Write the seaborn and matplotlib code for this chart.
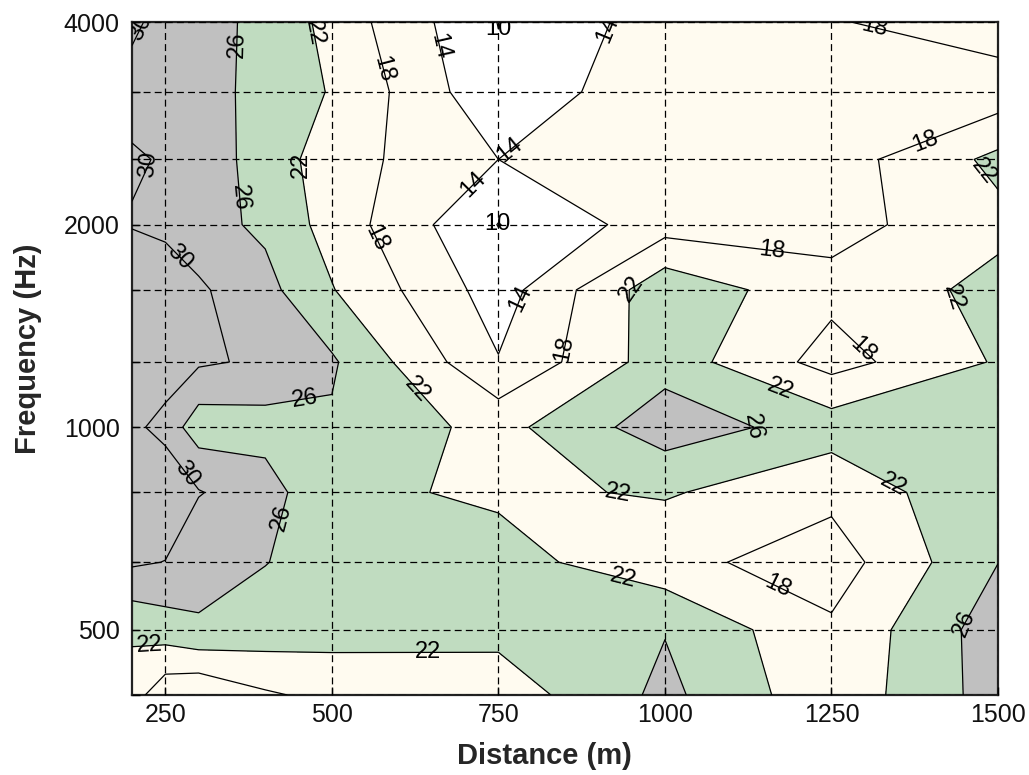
import numpy as np
import matplotlib
matplotlib.use("Agg")
import matplotlib.pyplot as plt
import seaborn as sns
from matplotlib.ticker import FixedLocator, FixedFormatter, NullFormatter

# ---------------- data ----------------
distance_m = [200, 250, 300, 400, 500, 750, 1000, 1250, 1500]
frequency_hz = [400, 500, 630, 800, 1000, 1250, 1600, 2000, 2500, 3150, 4000]

# level (dB) per distance, one list per 1/3-octave band
band_400 = [19.7, 15.4, 14.5, 17.5, 19.0, 19.7, 27.0, 19.2, 27.8]
band_500 = [22.9, 24.2, 25.7, 24.5, 23.8, 23.35, 25.8, 18.6, 28.1]
band_630 = [30.6, 29.9, 27.0, 26.1, 24.5, 23.6, 19.2, 16.0, 25.95]
band_800 = [33.0, 33.6, 30.25, 27.5, 23.07, 21.25, 22.4, 19.2, 25.4]
band_1000 = [31.1, 28.4, 23.8, 24.5, 25.55, 20.6, 28.3, 24.0, 24.0]
band_1250 = [33.5, 33.0, 30.6, 29.3, 26.5, 14.2, 24.2, 16.4, 22.4]
band_1600 = [32.5, 31.7, 30.6, 27.2, 22.2, 12.1, 24.7, 19.3, 23.1]
band_2000 = [29.8, 29.3, 27.5, 25.2, 20.4, 9.9, 16.15, 16.5, 20.96]
band_2500 = [30.4, 29.7, 28.1, 24.4, 19.8, 14.0, 16.0, 16.04, 23.0]
band_3150 = [28.6, 28.6, 28.7, 23.8, 21.8, 10.8, 17.2, 16.0, 15.4]
band_4000 = [30.8, 28.5, 26.7, 25.5, 20.5, 9.9, 16.0, 17.6, 21.0]

contour_levels = [14, 18, 22, 26, 30]
low_level = [10]
fill_bounds = [0, 14, 22, 26, 100]
fill_colors = ["#FFFFFF", "#FFFBF0", "#C0DCC0", "#C0C0C0"]

x_ticks = [250, 500, 750, 1000, 1250, 1500]
x_tick_labels = ["250", "500", "750", "1000", "1250", "1500"]
y_ticks = [500, 1000, 2000, 4000]
y_tick_labels = ["500", "1000", "2000", "4000"]
x_label = "Distance (m)"
y_label = "Frequency (Hz)"

# approximate spots where contour labels sit (layout hints; each label
# snaps to the nearest contour line)
label_hints = [
    (220, 3890), (355, 3700), (467, 3850), (572, 3390), (658, 3670),
    (917, 3890), (1312, 3860), (224, 2460), (445, 2450), (357, 2190),
    (272, 1790), (767, 2575), (710, 2305), (568, 1910), (1390, 2665),
    (1473, 2380), (1160, 1813), (782, 1553), (952, 1590), (1425, 1540),
    (847, 1307), (625, 1130), (1295, 1295), (463, 1053), (1172, 1130),
    (1135, 1017), (281, 850), (437, 729), (929, 795), (1337, 800),
    (935, 583), (1165, 567), (1450, 511), (227, 471), (644, 450),
]
low_label_hints = [(750, 3900), (750, 2000)]

# ---------------- style ----------------
sns.set_style("ticks")
plt.rcParams["font.family"] = ["Liberation Sans", "DejaVu Sans"]
plt.rcParams["lines.scale_dashes"] = False

Z = np.array([band_400, band_500, band_630, band_800, band_1000, band_1250,
              band_1600, band_2000, band_2500, band_3150, band_4000])
D, F = np.meshgrid(np.array(distance_m, float), np.array(frequency_hz, float))

fig = plt.figure(figsize=(10.29, 7.75), dpi=100)
ax = fig.add_axes([0.1283, 0.1032, 0.8416, 0.8684])
ax.set_yscale("log", base=2)
ax.set_xlim(distance_m[0], distance_m[-1])
ax.set_ylim(frequency_hz[0], frequency_hz[-1])

ax.contourf(D, F, Z, levels=fill_bounds, colors=fill_colors, zorder=1)
cs = ax.contour(D, F, Z, levels=contour_levels, colors="black",
                linewidths=0.9, zorder=3)
ax.clabel(cs, fmt="%d", inline=False, fontsize=17, colors="black",
          manual=label_hints)

cs_low = ax.contour(D, F, Z, levels=low_level, colors="black",
                    linewidths=0.9, zorder=3)
ax.clabel(cs_low, fmt="%d", inline=False, fontsize=17, colors="black",
          manual=low_label_hints)

ax.set_xlim(distance_m[0], distance_m[-1])
ax.set_ylim(frequency_hz[0], frequency_hz[-1])

ax.xaxis.set_major_locator(FixedLocator(x_ticks))
ax.xaxis.set_major_formatter(FixedFormatter(x_tick_labels))
ax.yaxis.set_major_locator(FixedLocator(y_ticks))
ax.yaxis.set_major_formatter(FixedFormatter(y_tick_labels))
minor_f = [f for f in frequency_hz if f not in y_ticks]
ax.yaxis.set_minor_locator(FixedLocator(minor_f))
ax.yaxis.set_minor_formatter(NullFormatter())
ax.xaxis.set_minor_locator(FixedLocator([]))

dash = (0, (5, 3))
ax.set_axisbelow(False)
ax.grid(True, which="major", axis="x", color="black", linestyle=dash, linewidth=0.9)
ax.grid(True, which="both", axis="y", color="black", linestyle=dash, linewidth=0.9)

ax.tick_params(which="both", direction="in", length=6, width=1, color="black")
ax.tick_params(axis="x", which="major", labelsize=18, pad=6, labelcolor="#111111")
ax.tick_params(axis="y", which="major", labelsize=18, pad=9, labelcolor="#111111")

for s in ax.spines.values():
    s.set_visible(True)
    s.set_linewidth(1.6)
    s.set_color("#222222")

ax.set_xlabel(x_label, fontsize=21, fontweight="bold")
ax.set_ylabel(y_label, fontsize=21, fontweight="bold")
ax.xaxis.set_label_coords(0.476, -0.07)
ax.yaxis.set_label_coords(-0.104, 0.514)

fig.savefig("out.png", dpi=100, facecolor="white")
